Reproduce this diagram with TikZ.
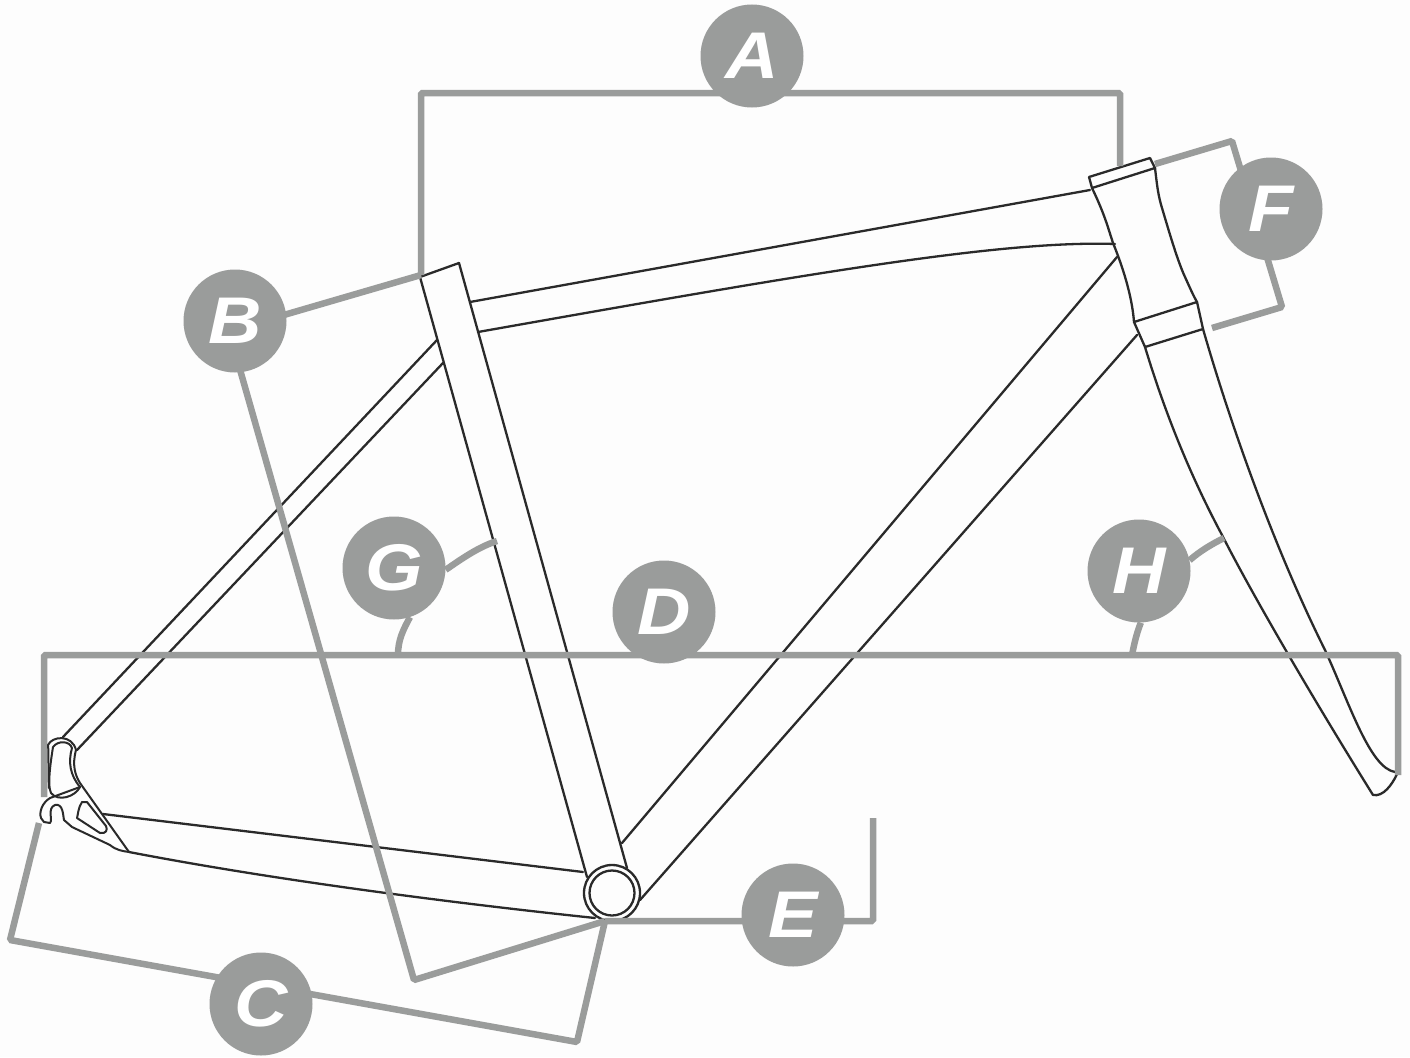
\documentclass[tikz,border=0pt]{standalone}
\usepackage{fontspec}
\usepackage{graphicx}
\setmainfont{Liberation Sans}
\definecolor{dimgray}{HTML}{9A9C9B}
\definecolor{frameblack}{HTML}{2A2A2A}
\definecolor{paper}{HTML}{FDFDFD}
\pgfdeclarelayer{framelayer}
\pgfdeclarelayer{dimlayer}
\pgfsetlayers{framelayer,dimlayer,main}
\tikzset{
  frameline/.style={draw=frameblack,line width=2.3pt,line join=round,line cap=round},
  fineline/.style={draw=frameblack,line width=2pt,line join=round,line cap=round},
  dimline/.style={draw=dimgray,line width=6.5pt,line join=miter,rounded corners=1.5pt},
  badge/.style={circle,fill=dimgray,minimum size=103pt,inner sep=0pt,text=white,
    font=\fontsize{66}{66}\selectfont\bfseries\itshape},
}
\newcommand{\wideletter}[1]{\scalebox{1.12}[1]{#1}}
\begin{document}
\begin{tikzpicture}[x=1pt,y=-1pt]
\useasboundingbox (0,0) rectangle (1410,1057);
% badges
\node[badge] (A) at (752,56) {\wideletter{A}};
\node[badge] (B) at (235,321) {\wideletter{B}};
\node[badge] (C) at (261,1004) {\wideletter{C}};
\node[badge] (D) at (664,612) {\wideletter{D}};
\node[badge] (E) at (793,915) {\wideletter{E}};
\node[badge] (F) at (1271,209) {\wideletter{F}};
\node[badge] (G) at (394,568) {\wideletter{G}};
\node[badge] (H) at (1139,571) {\wideletter{H}};
% rear dropout (over the dimension lines)
\draw[fineline] (49,788) .. controls (48,770) and (49,755) .. (48,745)
  .. controls (52,736) and (72,734) .. (76,750)
  .. controls (72,765) and (75,775) .. (80,783) -- (129,852);
\draw[fineline] (53,747) .. controls (58,740) and (70,741) .. (72,748)
  .. controls (68,762) and (70,775) .. (80,787)
  .. controls (75,797) and (58,802) .. (51,793) .. controls (47,785) and (51,760) .. (53,747);
\draw[fineline] (80,787) -- (50,798) .. controls (42,803) and (39,812) .. (41,818) -- (44,822) -- (50,823)
  .. controls (53,820) and (47,808) .. (55,805) .. controls (63,803) and (63,815) .. (64,820)
  -- (72,827) -- (110,845) .. controls (116,850) and (122,851) .. (129,852);
\draw[fineline] (82,802) .. controls (78,808) and (78,815) .. (77,818) -- (100,833)
  .. controls (106,834) and (108,830) .. (106,826) -- (87,802) -- cycle;
\begin{pgfonlayer}{framelayer}
\fill[paper] (0,0) rectangle (1410,1057);
% tubes
\draw[frameline] (420,277) -- (459,263);
\draw[frameline] (420,277) -- (587,877);
\draw[frameline] (459,263) -- (627,868);
\draw[frameline] (470,302) -- (1090,190);
\draw[frameline] (478,332) .. controls (800,275) and (1000,240) .. (1115,244);
\draw[frameline] (1117,257) -- (622,843);
\draw[frameline] (1137,335) -- (640,900);
\draw[frameline] (63,737) -- (437,340);
\draw[frameline] (77,750) -- (443,363);
\draw[frameline] (103,814) -- (583,872);
\draw[frameline] (129,852) .. controls (300,885) and (500,908) .. (595,918);
% bottom bracket
\coordinate (bbc) at (612,893);
\draw[frameline] (bbc) circle (28);
\draw[frameline] (bbc) circle (22.5);
% head tube
\draw[frameline] (1089,177) -- (1150,158) -- (1155,168) -- (1092,188) -- cycle;
\draw[frameline] (1092,188) .. controls (1105,215) and (1108,228) .. (1113,243)
  .. controls (1122,265) and (1132,295) .. (1134,322);
\draw[frameline] (1155,168) .. controls (1157,185) and (1158,195) .. (1162,208)
  .. controls (1170,235) and (1178,262) .. (1185,277) .. controls (1190,288) and (1193,295) .. (1197,302);
\draw[frameline] (1134,322) -- (1197,302);
\draw[frameline] (1134,322) -- (1145,347) -- (1203,329) -- (1197,302);
% fork
\draw[frameline] (1145,347) .. controls (1165,413) and (1190,475) .. (1222,535)
  .. controls (1255,600) and (1320,710) .. (1373,795);
\draw[frameline] (1203,329) .. controls (1235,440) and (1280,560) .. (1325,650)
  .. controls (1350,705) and (1370,768) .. (1395,772);
\draw[frameline] (1373,795) .. controls (1383,797) and (1392,785) .. (1397,774);
\end{pgfonlayer}
\begin{pgfonlayer}{dimlayer}
\coordinate (a1) at (421,275);
\coordinate (a2) at (421,93);
\coordinate (a3) at (1120,93);
\coordinate (a4) at (1120,166);
\coordinate (bapex) at (229,331);
\coordinate (bb) at (605,921);
\coordinate (b2) at (414,980);
\coordinate (c1) at (39,823);
\coordinate (c2) at (10,940);
\coordinate (c3) at (577,1042);
\coordinate (d1) at (44,797);
\coordinate (d2) at (44,655);
\coordinate (d3) at (1398,655);
\coordinate (d4) at (1398,775);
\coordinate (e2) at (873,921);
\coordinate (e3) at (873,818);
\coordinate (f1) at (1155,164);
\coordinate (f2) at (1232,141);
\coordinate (f3) at (1282,307);
\coordinate (f4) at (1212,328);
\coordinate (g1) at (497,541);
\coordinate (g2) at (398,655);
\coordinate (h1) at (1224,538);
\coordinate (h2) at (1132,655);
\draw[dimline] (a1) -- (a2) -- (a3) -- (a4);
\draw[dimline] (a1) -- (bapex) -- (b2) -- (bb);
\draw[dimline] (c1) -- (c2) -- (c3) -- (bb);
\draw[dimline] (d1) -- (d2) -- (d3) -- (d4);
\draw[dimline] (bb) -- (e2) -- (e3);
\draw[dimline] (f1) -- (f2) -- (f3) -- (f4);
\draw[dimline] (G.-2) .. controls (460,560) and (478,547) .. (g1);
\draw[dimline] (G.-72) .. controls (403,630) and (398,640) .. (g2);
\draw[dimline] (H.12) .. controls (1200,551) and (1212,544) .. (h1);
\draw[dimline] (H.-88) .. controls (1136,635) and (1134,645) .. (h2);
\end{pgfonlayer}
\end{tikzpicture}
\end{document}
